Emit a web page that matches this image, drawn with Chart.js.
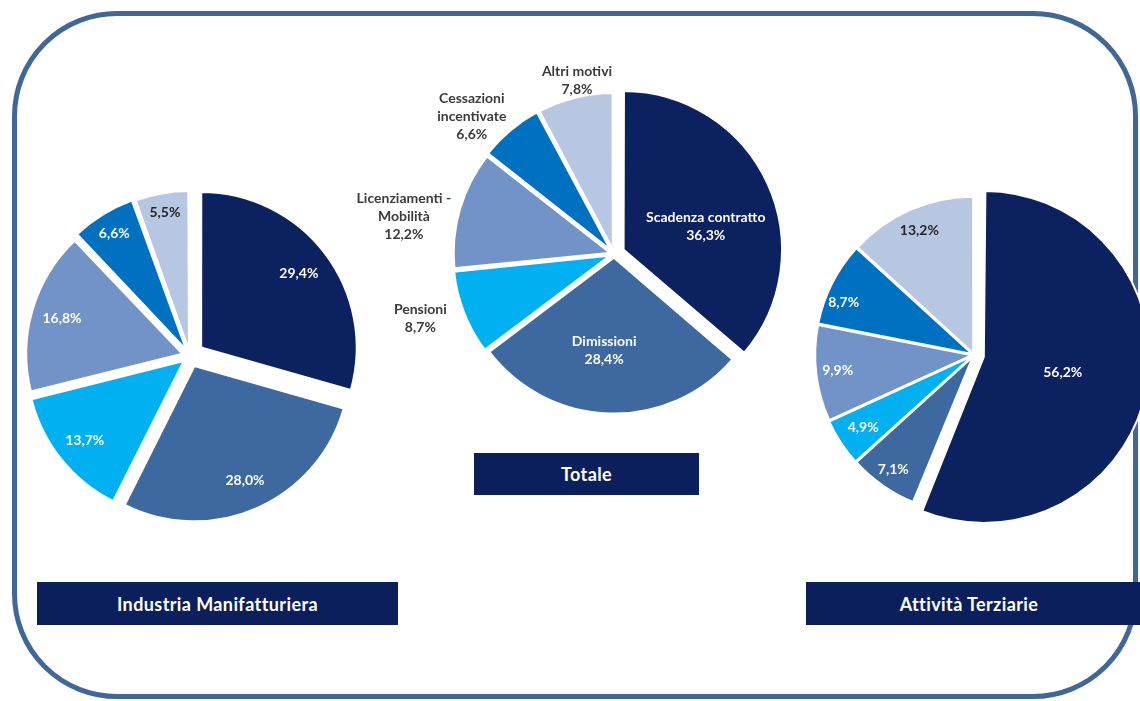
<!DOCTYPE html>
<html>
<head>
<meta charset="utf-8">
<script src="https://cdn.jsdelivr.net/npm/chart.js@4.4.0/dist/chart.umd.min.js"></script>
<style>
body{margin:0;width:1140px;height:701px;overflow:hidden;background:#fff;position:relative;font-family:Lato,"Open Sans",sans-serif}
.frame{position:absolute;left:12px;top:11px;width:1126px;height:688px;box-sizing:border-box;border:5px solid #3f6899;border-radius:105px}
canvas{position:absolute}
.box{position:absolute;background:#0b1f5c;color:#fff;font-weight:bold;font-size:18px;letter-spacing:0.4px;display:flex;align-items:center;justify-content:center}
</style>
</head>
<body>
<div class="frame"></div>
<canvas id="manif" width="380" height="380" style="left:0px;top:166px"></canvas>
<canvas id="totale" width="580" height="480" style="left:324px;top:14px"></canvas>
<canvas id="terz" width="380" height="380" style="left:784px;top:165px"></canvas>
<div class="box" style="left:37px;top:582px;width:361px;height:43px">Industria Manifatturiera</div>
<div class="box" style="left:474px;top:453px;width:225px;height:42px">Totale</div>
<div class="box" style="left:806px;top:582px;width:334px;height:43px;padding-right:8px;box-sizing:border-box">Attività Terziarie</div>
<script>
// categorie (righe delle etichette)
const categorie = [['Scadenza contratto'], ['Dimissioni'], ['Pensioni'], ['Licenziamenti -', 'Mobilità'], ['Cessazioni', 'incentivate'], ['Altri motivi']];
// valori %
const totale = [36.3, 28.4, 8.7, 12.2, 6.6, 7.8];
const manifatturiera = [29.4, 28.0, 13.7, 16.8, 6.6, 5.5];
const terziarie = [56.2, 7.1, 4.9, 9.9, 8.7, 13.2];

const colori = ['#0b2160', '#3e69a0', '#00b0f0', '#7193c8', '#0070c0', '#b8c7e1'];

function fmt(v) {
	return v.toFixed(1).replace('.', ',') + '%';
}

const etichette = {
	id: 'etichette',
	afterDatasetsDraw(chart, args, opts) {
		const ctx = chart.ctx;
		const meta = chart.getDatasetMeta(0);
		const vals = chart.data.datasets[0].data;
		ctx.save();
		ctx.font = 'bold 14px Lato, sans-serif';
		ctx.textAlign = 'center';
		ctx.textBaseline = 'middle';
		meta.data.forEach(function(arc, i) {
			const p = arc.getProps(['x', 'y', 'startAngle', 'endAngle', 'outerRadius'], true);
			const a = (p.startAngle + p.endAngle) / 2 + (opts.ruota ? opts.ruota[i] : 0) * Math.PI / 180;
			const r = p.outerRadius * opts.dist[i];
			const cx = p.x + Math.cos(a) * r;
			const cy = p.y + Math.sin(a) * r;
			const lines = (opts.nomi ? opts.nomi[i] : []).concat([fmt(vals[i])]);
			ctx.fillStyle = opts.testo[i];
			lines.forEach(function(t, k) {
				ctx.fillText(t, cx, cy + (k - (lines.length - 1) / 2) * 18);
			});
		});
		ctx.restore();
	}
};

function torta(id, valori, raggio, offset, bordo, lab) {
	return new Chart(document.getElementById(id), {
		type: 'pie',
		data: {
			labels: categorie.map(function(c) { return c.join(' '); }),
			datasets: [{
				data: valori,
				backgroundColor: colori,
				borderColor: '#ffffff',
				borderWidth: bordo,
				offset: offset
			}]
		},
		options: {
			responsive: false,
			animation: false,
			radius: raggio,
			layout: { padding: 0 },
			plugins: {
				legend: { display: false },
				tooltip: { enabled: false },
				etichette: lab
			}
		},
		plugins: [etichette]
	});
}

torta('manif', manifatturiera, 155, [56, 44, 32, 32, 28, 24], 2, {
	dist: [0.88, 0.88, 0.87, 0.86, 0.93, 0.94],
	testo: ['#fff', '#fff', '#fff', '#fff', '#fff', '#262626']
});

torta('totale', totale, 157, [40, 12, 12, 12, 12, 12], 3, {
	dist: [0.61, 0.62, 1.30, 1.36, 1.26, 1.13],
	ruota: [8, 4, 3, -6, -6, 2],
	nomi: categorie,
	testo: ['#fff', '#fff', '#3b3b3b', '#3b3b3b', '#3b3b3b', '#3b3b3b']
});

torta('terz', terziarie, 156, [40, 8, 8, 8, 8, 8], 2, {
	dist: [0.58, 0.9, 0.85, 0.88, 0.9, 0.87],
	ruota: [0, 0, 0, 0, -5, 0],
	testo: ['#fff', '#fff', '#fff', '#fff', '#fff', '#262626']
});
</script>
</body>
</html>
